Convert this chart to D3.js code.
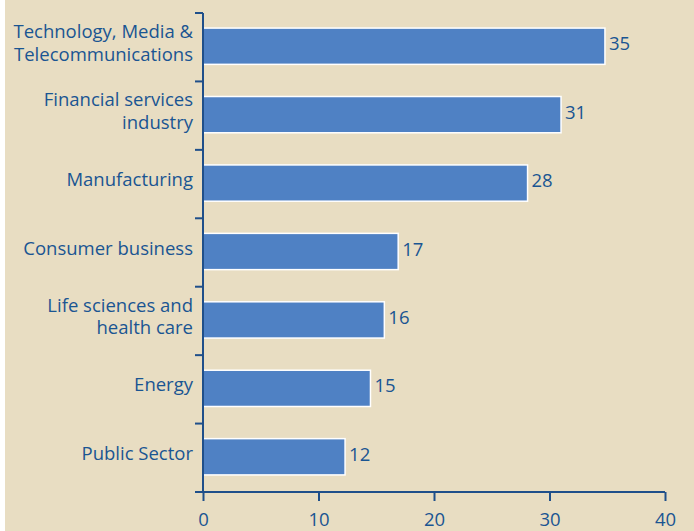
<!DOCTYPE html>
<html>
<head>
<meta charset="utf-8">
<script src="https://cdn.jsdelivr.net/npm/d3@7"></script>
<style>
  body { margin: 0; background: #fff; }
  svg text { font-family: "Open Sans", "Noto Sans", sans-serif; fill: #1a5592; }
</style>
</head>
<body>
<script>
// chart data
const categories = [
  ["Technology, Media &", "Telecommunications"],
  ["Financial services", "industry"],
  ["Manufacturing"],
  ["Consumer business"],
  ["Life sciences and", "health care"],
  ["Energy"],
  ["Public Sector"]
];
const values = [34.8, 31.0, 28.1, 16.9, 15.7, 14.5, 12.3];
const valueLabels = ["35", "31", "28", "17", "16", "15", "12"];
const xTicks = [0, 10, 20, 30, 40];

let width = 694;
let height = 531;
let margin = {top: 13, right: 29, bottom: 39, left: 203};
let fontSize = "18.5px";

let svg = d3.select("body")
  .append("svg")
  .attr("width", width)
  .attr("height", height);

svg.append("rect")
  .attr("x", 5).attr("y", 0)
  .attr("width", width - 5).attr("height", height)
  .attr("fill", "#e8ddc2");

let x = d3.scaleLinear()
  .domain([0, 40])
  .range([margin.left, width - margin.right]);

let y = d3.scaleBand()
  .domain(d3.range(categories.length))
  .range([margin.top, height - margin.bottom])
  .paddingInner(0.47)
  .paddingOuter(0.235);

// bars
svg.selectAll("rect.bar")
  .data(values)
  .join("rect")
  .attr("class", "bar")
  .attr("x", x(0))
  .attr("y", (d, i) => y(i) - 1)
  .attr("width", d => x(d) - x(0))
  .attr("height", y.bandwidth())
  .attr("fill", "#4f81c4")
  .attr("stroke", "#ffffff")
  .attr("stroke-width", 1.5);

// value labels
svg.selectAll("text.val")
  .data(values)
  .join("text")
  .attr("class", "val")
  .attr("x", d => x(d) + 4)
  .attr("y", (d, i) => y(i) + y.bandwidth() / 2 + 3)
  .attr("font-size", fontSize)
  .text((d, i) => valueLabels[i]);

// y axis: vertical line with ticks at band edges
let step = y.step();
let edges = d3.range(categories.length + 1).map(i => margin.top + i * (height - margin.top - margin.bottom) / categories.length);
let axisColor = "#1f4f8a";

svg.append("line")
  .attr("x1", x(0)).attr("x2", x(0))
  .attr("y1", margin.top).attr("y2", height - margin.bottom)
  .attr("stroke", axisColor).attr("stroke-width", 2);

svg.selectAll("line.ytick")
  .data(edges)
  .join("line")
  .attr("class", "ytick")
  .attr("x1", x(0) - 8).attr("x2", x(0))
  .attr("y1", d => d).attr("y2", d => d)
  .attr("stroke", axisColor).attr("stroke-width", 2);

// category labels
let labels = svg.selectAll("text.cat")
  .data(categories)
  .join("text")
  .attr("class", "cat")
  .attr("text-anchor", "end")
  .attr("font-size", fontSize)
  .attr("transform", (d, i) => "translate(" + (x(0) - 10) + "," + (edges[i] + step / 2) + ")");

labels.selectAll("tspan")
  .data(d => d.map((t, k) => ({t: t, k: k, n: d.length})))
  .join("tspan")
  .attr("x", 0)
  .attr("y", d => (d.k - (d.n - 1) / 2) * 22.7 + 2)
  .text(d => d.t);

// x axis
let xAxis = svg.append("g")
  .attr("transform", "translate(0," + (height - margin.bottom) + ")")
  .call(d3.axisBottom(x).tickValues(xTicks).tickSize(9).tickPadding(12).tickSizeOuter(0));

xAxis.select(".domain")
  .attr("stroke", axisColor).attr("stroke-width", 2)
  .attr("d", "M" + (x(0) - 8) + ",0H" + x(40));
xAxis.selectAll(".tick line").attr("stroke", axisColor).attr("stroke-width", 2);
xAxis.selectAll(".tick text")
  .attr("font-size", fontSize)
  .attr("font-family", "Open Sans")
  .attr("fill", "#1a5592");
</script>
</body>
</html>
